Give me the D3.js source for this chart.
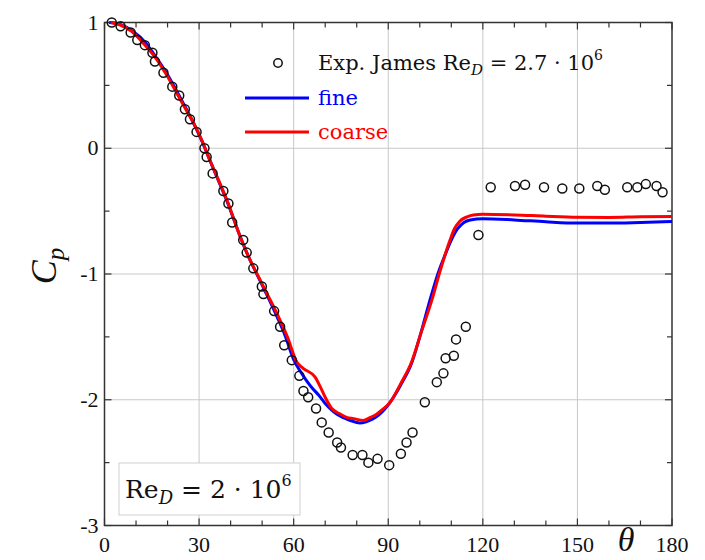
<!DOCTYPE html>
<html>
<head>
<meta charset="utf-8">
<script src="https://cdn.jsdelivr.net/npm/d3@7"></script>
<style>
    html, body { margin: 0; padding: 0; background: #fff; }
    svg { display: block; font-family: 'Liberation Serif', 'DejaVu Serif', serif; }
    .wide { font-family: 'DejaVu Serif', serif; }
</style>
</head>
<body>
<svg id="chart"></svg>
<script>
// Experimental data (James, Re_D = 2.7e6): theta in degrees, Cp
const expTheta = [2.3, 5.1, 8.3, 10.4, 12.8, 15.2, 16.0, 18.7, 21.5, 23.7, 25.5, 27.1, 29.2,
    31.7, 32.4, 34.3, 37.7, 39.3, 40.5, 44.0, 45.1, 47.2, 49.9, 50.4, 53.8, 55.7, 57.0, 59.4,
    61.8, 63.1, 64.6, 67.1, 68.9, 71.1, 73.8, 75.0, 78.7, 81.8, 83.7, 86.6, 90.3, 94.0, 95.8,
    97.7, 101.6, 105.4, 107.5, 108.2, 110.8, 111.5, 114.6, 118.6, 122.5, 130.2, 133.4, 139.4,
    145.2, 150.6, 156.3, 158.7, 165.8, 169.0, 171.7, 175.1, 177.0];
const expCp = [1.0, 0.97, 0.92, 0.86, 0.82, 0.76, 0.69, 0.60, 0.49, 0.42, 0.31, 0.23, 0.13,
    0.0, -0.07, -0.20, -0.34, -0.44, -0.59, -0.73, -0.83, -0.955, -1.10, -1.16, -1.295, -1.42, -1.566, -1.685,
    -1.81, -1.93, -1.98, -2.07, -2.18, -2.26, -2.34, -2.38, -2.44, -2.44, -2.50, -2.47, -2.52, -2.43, -2.34,
    -2.26, -2.02, -1.86, -1.79, -1.67, -1.65, -1.52, -1.42, -0.69, -0.31, -0.30, -0.29, -0.31,
    -0.32, -0.32, -0.30, -0.33, -0.31, -0.31, -0.285, -0.30, -0.35];

// Fine mesh
const fineTheta = [1.5, 5, 9, 13, 17, 20, 23, 26, 29, 31, 33, 36, 39, 43, 46, 48.5, 51, 54, 57, 60,
    62, 64, 66, 68, 70, 72, 74, 76, 78, 81, 83, 86, 90, 94, 97.4, 100, 103.2, 106, 108, 110, 112,
    114, 116, 120, 130, 140, 150, 160, 170, 180];
const fineCp = [1.0, 0.985, 0.93, 0.84, 0.70, 0.585, 0.45, 0.31, 0.16, 0.05, -0.07, -0.25, -0.43,
    -0.70, -0.88, -1.01, -1.14, -1.30, -1.47, -1.68, -1.77, -1.845, -1.91, -1.965, -2.03, -2.08,
    -2.12, -2.145, -2.165, -2.185, -2.175, -2.14, -2.04, -1.88, -1.71, -1.50, -1.21, -0.98, -0.85,
    -0.73, -0.64, -0.59, -0.57, -0.56, -0.57, -0.585, -0.595, -0.595, -0.59, -0.583];

// Coarse mesh
const coarseTheta = [2, 5, 8.6, 12.5, 16.6, 20, 22.9, 26, 28.7, 31.3, 33, 36.1, 38.8, 43, 46, 48.3,
    51, 54.6, 58, 61, 63, 66.8, 68.5, 70, 72.1, 74.5, 76.8, 79, 82.1, 84, 86.3, 88, 90.3, 94, 97.4,
    100.5, 103.8, 106.4, 109.6, 111, 112.7, 115, 117, 120, 130, 140, 150, 160, 170, 180];
const coarseCp = [1.0, 0.98, 0.93, 0.83, 0.705, 0.57, 0.44, 0.30, 0.18, 0.04, -0.07, -0.25, -0.41,
    -0.70, -0.88, -0.995, -1.13, -1.31, -1.50, -1.70, -1.75, -1.82, -1.90, -1.98, -2.07, -2.11,
    -2.14, -2.15, -2.165, -2.145, -2.115, -2.08, -2.03, -1.87, -1.70, -1.46, -1.21, -0.98, -0.73,
    -0.64, -0.58, -0.545, -0.53, -0.525, -0.53, -0.54, -0.548, -0.55, -0.545, -0.543];

const xTicks = [0, 30, 60, 90, 120, 150, 180];
const yTicks = [-3, -2, -1, 0, 1];
const xMinor = d3.range(0, 181, 10);
const yMinor = d3.range(-3, 1.01, 0.5);

const width = 705, height = 560;
const margin = { left: 104.5, right: 33, top: 22.5, bottom: 34.5 };
const plotW = width - margin.left - margin.right;
const plotH = height - margin.top - margin.bottom;

const svg = d3.select('#chart')
    .attr('width', width)
    .attr('height', height);

const x = d3.scaleLinear().domain([0, 180]).range([margin.left, margin.left + plotW]);
const y = d3.scaleLinear().domain([-3, 1]).range([margin.top + plotH, margin.top]);

// Grid lines
const grid = svg.append('g').attr('stroke', '#c8c8c8').attr('stroke-width', 1);
grid.selectAll('.gx')
    .data(xTicks.slice(1, -1))
    .enter().append('line')
    .attr('x1', d => x(d)).attr('x2', d => x(d))
    .attr('y1', y(-3)).attr('y2', y(1));
grid.selectAll('.gy')
    .data(yTicks.slice(1, -1))
    .enter().append('line')
    .attr('x1', x(0)).attr('x2', x(180))
    .attr('y1', d => y(d)).attr('y2', d => y(d));

// Inward ticks on all four sides
const tickColor = '#333';
const ticks = svg.append('g').attr('stroke', tickColor).attr('stroke-width', 1.2);
xMinor.forEach(d => {
    const len = d % 30 === 0 ? 7 : 5;
    ticks.append('line').attr('x1', x(d)).attr('x2', x(d)).attr('y1', y(-3)).attr('y2', y(-3) - len);
    ticks.append('line').attr('x1', x(d)).attr('x2', x(d)).attr('y1', y(1)).attr('y2', y(1) + len);
});
yMinor.forEach(d => {
    const len = Number.isInteger(d) ? 7 : 5;
    ticks.append('line').attr('x1', x(0)).attr('x2', x(0) + len).attr('y1', y(d)).attr('y2', y(d));
    ticks.append('line').attr('x1', x(180)).attr('x2', x(180) - len).attr('y1', y(d)).attr('y2', y(d));
});

// Frame
svg.append('rect')
    .attr('x', x(0)).attr('y', y(1))
    .attr('width', plotW).attr('height', plotH)
    .attr('fill', 'none')
    .attr('stroke', '#333')
    .attr('stroke-width', 1.5);

// Tick labels
svg.append('g').selectAll('text')
    .data(xTicks)
    .enter().append('text')
    .attr('x', d => x(d))
    .attr('y', y(-3) + 26)
    .attr('text-anchor', 'middle')
    .attr('font-size', 22)
    .attr('fill', '#111')
    .text(d => d);

svg.append('g').selectAll('text')
    .data(yTicks)
    .enter().append('text')
    .attr('x', x(0) - 6)
    .attr('y', d => y(d) + 7)
    .attr('text-anchor', 'end')
    .attr('font-size', 22)
    .attr('fill', '#111')
    .text(d => d);

// Axis titles
svg.append('text')
    .attr('x', 626).attr('y', 551)
    .attr('text-anchor', 'middle')
    .attr('font-size', 34)
    .attr('font-style', 'italic')
    .attr('fill', '#111')
    .text('θ');

const yTitle = svg.append('text')
    .attr('transform', 'translate(56,266) rotate(-90)')
    .attr('text-anchor', 'middle')
    .attr('font-size', 36)
    .attr('fill', '#111');
yTitle.append('tspan').attr('font-style', 'italic').text('C');
yTitle.append('tspan').attr('font-style', 'italic').attr('font-size', 25).attr('dy', 8).text('p');

// Curves
const line = d3.line()
    .x(d => x(d[0]))
    .y(d => y(d[1]))
    .curve(d3.curveMonotoneX);

const fineData = fineTheta.map((t, i) => [t, fineCp[i]]);
const coarseData = coarseTheta.map((t, i) => [t, coarseCp[i]]);

svg.append('path')
    .datum(fineData)
    .attr('d', line)
    .attr('fill', 'none')
    .attr('stroke', '#0000ff')
    .attr('stroke-width', 3);

svg.append('path')
    .datum(coarseData)
    .attr('d', line)
    .attr('fill', 'none')
    .attr('stroke', '#ff0000')
    .attr('stroke-width', 3);

// Experimental points
svg.append('g').selectAll('circle')
    .data(expTheta.map((t, i) => [t, expCp[i]]))
    .enter().append('circle')
    .attr('cx', d => x(d[0]))
    .attr('cy', d => y(d[1]))
    .attr('r', 4.5)
    .attr('fill', 'none')
    .attr('stroke', '#111')
    .attr('stroke-width', 1.5);

// Legend
const legend = svg.append('g');
legend.append('circle')
    .attr('cx', 278).attr('cy', 63).attr('r', 4.2)
    .attr('fill', 'none').attr('stroke', '#111').attr('stroke-width', 1.5);
const expLabel = legend.append('text')
    .attr('class', 'wide')
    .attr('x', 318).attr('y', 70)
    .attr('font-size', 21)
    .attr('fill', '#111');
expLabel.append('tspan').text('Exp. James Re');
expLabel.append('tspan').attr('font-style', 'italic').attr('font-size', 15).attr('dy', 5).text('D');
expLabel.append('tspan').attr('dy', -5).text(' = 2.7 · 10');
expLabel.append('tspan').attr('font-size', 14).attr('dy', -10).text('6');

legend.append('line')
    .attr('x1', 245).attr('x2', 309).attr('y1', 98).attr('y2', 98)
    .attr('stroke', '#0000ff').attr('stroke-width', 3);
legend.append('text')
    .attr('class', 'wide')
    .attr('x', 318).attr('y', 105)
    .attr('font-size', 21)
    .attr('fill', '#0000ff')
    .text('fine');

legend.append('line')
    .attr('x1', 245).attr('x2', 309).attr('y1', 132).attr('y2', 132)
    .attr('stroke', '#ff0000').attr('stroke-width', 3);
legend.append('text')
    .attr('class', 'wide')
    .attr('x', 318).attr('y', 139)
    .attr('font-size', 21)
    .attr('fill', '#ff0000')
    .text('coarse');

// Reynolds number box
const note = svg.append('g');
note.append('rect')
    .attr('x', 119).attr('y', 463)
    .attr('width', 181).attr('height', 52)
    .attr('fill', '#fff')
    .attr('stroke', '#d0d0d0')
    .attr('stroke-width', 1);
const noteText = note.append('text')
    .attr('class', 'wide')
    .attr('x', 125).attr('y', 498)
    .attr('font-size', 25)
    .attr('fill', '#111');
noteText.append('tspan').text('Re');
noteText.append('tspan').attr('font-style', 'italic').attr('font-size', 18).attr('dy', 6).text('D');
noteText.append('tspan').attr('dy', -6).text(' = 2 · 10');
noteText.append('tspan').attr('font-size', 16).attr('dy', -12).text('6');
</script>
</body>
</html>
